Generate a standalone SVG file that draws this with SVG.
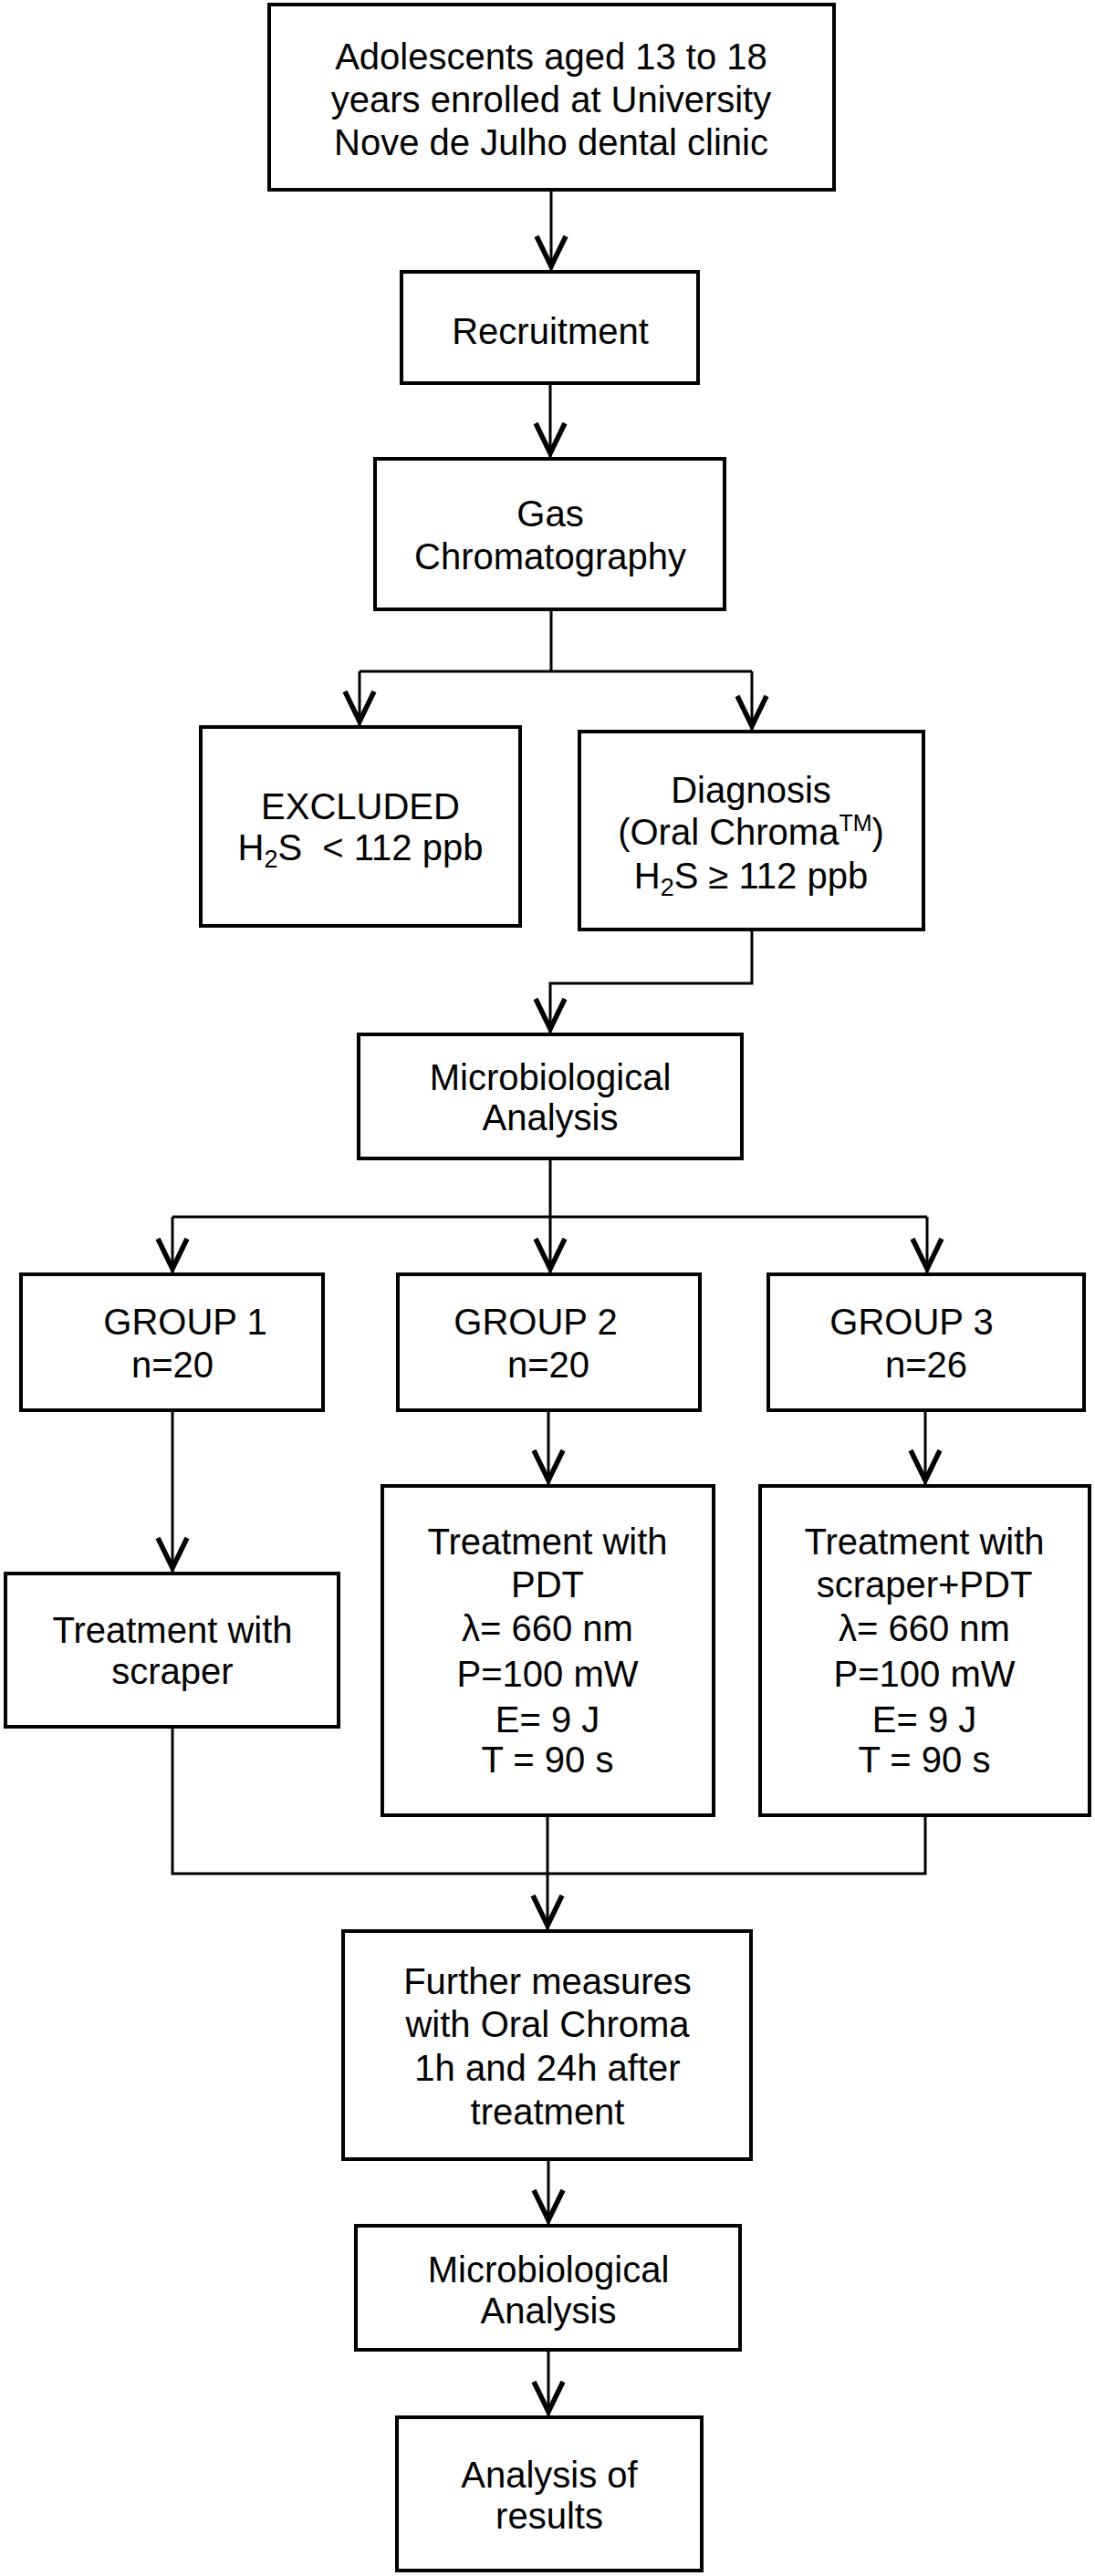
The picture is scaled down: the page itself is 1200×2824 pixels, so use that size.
<svg xmlns="http://www.w3.org/2000/svg" width="1200" height="2824" viewBox="0 0 1200 2824">
<style>
.box{fill:#fff;stroke:#000;stroke-width:4}
.t{font-family:"Liberation Sans",Arial,sans-serif;font-size:40px;fill:#000;text-anchor:middle}
.c{fill:none;stroke:#000;stroke-width:3}
.ca{fill:none;stroke:#000;stroke-width:3;marker-end:url(#ah)}
</style>
<defs>
<marker id="ah" markerUnits="userSpaceOnUse" markerWidth="60" markerHeight="60" viewBox="-50 -30 60 60" refX="6" refY="0" orient="auto" overflow="visible">
<polyline points="-33,-16 0,0 -33,16" fill="none" stroke="#000" stroke-width="5.5"/>
</marker>
</defs>
<rect width="1200" height="2824" fill="#fff"/>

<g id="n-adolescents">
<rect class="box" x="295" y="5" width="619" height="203"/>
<text class="t" x="604" y="76">Adolescents aged 13 to 18</text>
<text class="t" x="604" y="123">years enrolled at University</text>
<text class="t" x="604" y="170">Nove de Julho dental clinic</text>
</g>
<g id="n-recruitment">
<rect class="box" x="440" y="298" width="325" height="122"/>
<text class="t" x="603" y="377">Recruitment</text>
</g>
<g id="n-gas">
<rect class="box" x="411" y="503" width="383" height="165"/>
<text class="t" x="603" y="577">Gas</text>
<text class="t" x="603" y="624">Chromatography</text>
</g>
<g id="n-excluded">
<rect class="box" x="220" y="797" width="350" height="218"/>
<text class="t" x="395" y="898">EXCLUDED</text>
<text class="t" x="395" y="943" xml:space="preserve">H<tspan font-size="27" dy="8">2</tspan><tspan dy="-8">S  &lt; 112 ppb</tspan></text>
</g>
<g id="n-diagnosis">
<rect class="box" x="635" y="802" width="377" height="217"/>
<text class="t" x="823" y="880">Diagnosis</text>
<text class="t" x="823" y="926">(Oral Chroma<tspan font-size="25" dy="-15">TM</tspan><tspan dy="15">)</tspan></text>
<text class="t" x="823" y="974">H<tspan font-size="27" dy="8">2</tspan><tspan dy="-8">S ≥ 112 ppb</tspan></text>
</g>
<g id="n-micro1">
<rect class="box" x="393" y="1134" width="420" height="136"/>
<text class="t" x="603" y="1195">Microbiological</text>
<text class="t" x="603" y="1239">Analysis</text>
</g>
<g id="n-group1">
<rect class="box" x="23" y="1397" width="331" height="149"/>
<text class="t" x="203" y="1463">GROUP 1</text>
<text class="t" x="189" y="1510">n=20</text>
</g>
<g id="n-group2">
<rect class="box" x="436" y="1397" width="331" height="149"/>
<text class="t" x="587" y="1463">GROUP 2</text>
<text class="t" x="601" y="1510">n=20</text>
</g>
<g id="n-group3">
<rect class="box" x="842" y="1397" width="346" height="149"/>
<text class="t" x="999" y="1463">GROUP 3</text>
<text class="t" x="1015" y="1510">n=26</text>
</g>
<g id="n-scraper">
<rect class="box" x="6" y="1725" width="365" height="168"/>
<text class="t" x="189" y="1801">Treatment with</text>
<text class="t" x="189" y="1846">scraper</text>
</g>
<g id="n-pdt">
<rect class="box" x="419" y="1629" width="363" height="361"/>
<text class="t" x="600" y="1704">Treatment with</text>
<text class="t" x="600" y="1751">PDT</text>
<text class="t" x="600" y="1799">λ= 660 nm</text>
<text class="t" x="600" y="1849">P=100 mW</text>
<text class="t" x="600" y="1899">E= 9 J</text>
<text class="t" x="600" y="1943">T = 90 s</text>
</g>
<g id="n-scraperpdt">
<rect class="box" x="833" y="1629" width="361" height="361"/>
<text class="t" x="1013" y="1704">Treatment with</text>
<text class="t" x="1013" y="1751">scraper+PDT</text>
<text class="t" x="1013" y="1799">λ= 660 nm</text>
<text class="t" x="1013" y="1849">P=100 mW</text>
<text class="t" x="1013" y="1899">E= 9 J</text>
<text class="t" x="1013" y="1943">T = 90 s</text>
</g>
<g id="n-further">
<rect class="box" x="376" y="2117" width="447" height="250"/>
<text class="t" x="600" y="2186">Further measures</text>
<text class="t" x="600" y="2233">with Oral Chroma</text>
<text class="t" x="600" y="2281">1h and 24h after</text>
<text class="t" x="600" y="2329">treatment</text>
</g>
<g id="n-micro2">
<rect class="box" x="390" y="2440" width="421" height="136"/>
<text class="t" x="601" y="2502">Microbiological</text>
<text class="t" x="601" y="2547">Analysis</text>
</g>
<g id="n-results">
<rect class="box" x="435" y="2650" width="334" height="168"/>
<text class="t" x="602" y="2727">Analysis of</text>
<text class="t" x="602" y="2772">results</text>
</g>

<g id="connectors">
<path class="ca" d="M604,208 V298"/>
<path class="ca" d="M603,420 V503"/>
<path class="c" d="M604,668 V736 M394,736 H824"/>
<path class="ca" d="M394,736 V797"/>
<path class="ca" d="M824,736 V802"/>
<path class="ca" d="M824,1019 V1078 H603 V1134"/>
<path class="c" d="M603,1270 V1334 M189,1334 H1016"/>
<path class="ca" d="M189,1334 V1397"/>
<path class="ca" d="M603,1334 V1397"/>
<path class="ca" d="M1016,1334 V1397"/>
<path class="ca" d="M189,1546 V1725"/>
<path class="ca" d="M601,1546 V1629"/>
<path class="ca" d="M1014,1546 V1629"/>
<path class="c" d="M189,1893 V2054 H1014 V1990"/>
<path class="ca" d="M600,1990 V2117"/>
<path class="ca" d="M601,2367 V2440"/>
<path class="ca" d="M601,2576 V2650"/>
</g>
</svg>
